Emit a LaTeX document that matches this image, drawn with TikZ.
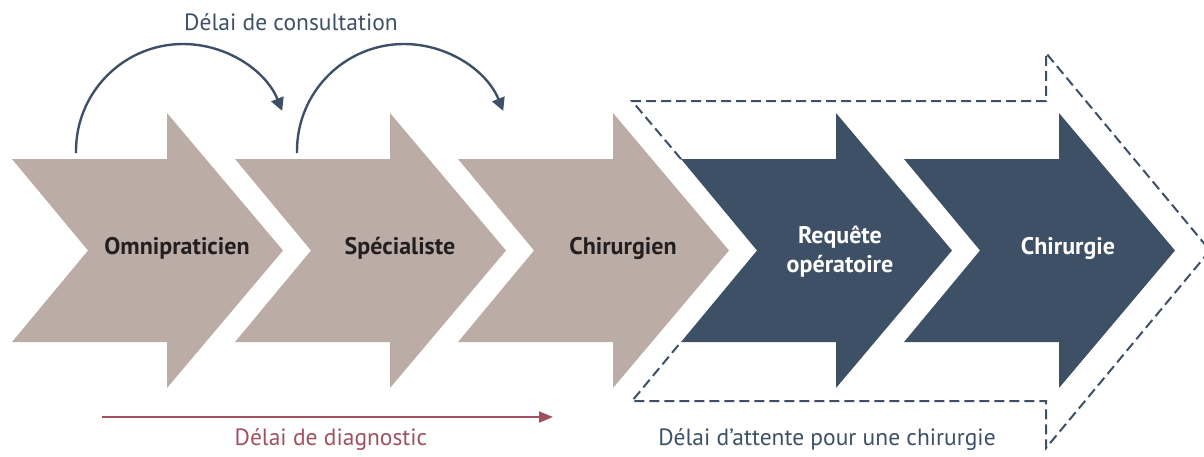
\documentclass[tikz,border=0pt]{standalone}
\usepackage{fontspec}
\setmainfont{PT Sans}
\usetikzlibrary{arrows.meta}
\definecolor{beige}{HTML}{BBADA6}
\definecolor{navy}{HTML}{3E5066}
\definecolor{mauve}{HTML}{A0505F}
\definecolor{ink}{HTML}{231F20}
\newcommand\chevshape[2]{%
  \fill[#2] (#1,159) -- (#1+155,159) -- (#1+155,113) -- (#1+271,250.5) -- (#1+155,388) -- (#1+155,342) -- (#1,342) -- (#1+76,250.5) -- cycle;}
\tikzset{
  steplabel/.style={font=\fontsize{24}{29}\selectfont\bfseries, align=center, inner sep=0pt},
  caption/.style={font=\fontsize{23.5}{28}\selectfont, inner sep=0pt},
  curvearrow/.style={draw=navy, line width=2.4pt, -{Triangle[length=13pt,width=13pt]}},
  diagarrow/.style={draw=mauve, line width=2pt, -{Triangle[length=14pt,width=11pt]}},
  waitbox/.style={draw=navy, line width=2pt, dash pattern=on 10pt off 5pt},
}
\begin{document}
\begin{tikzpicture}[x=1pt,y=-1pt]
\useasboundingbox (0,0) rectangle (1204,456);
% dashed outline (big arrow)
\draw[waitbox] (681,159) -- (632,101) -- (1046,101) -- (1046,53) -- (1210,250.5) -- (1046,448) -- (1046,401) -- (632,401) -- (681,342);
% chevrons
\chevshape{12}{beige}
\chevshape{235}{beige}
\chevshape{458}{beige}
\chevshape{681}{navy}
\chevshape{904}{navy}
% labels
\node[steplabel, text=ink] (omni) at (177,248) {Omnipraticien};
\node[steplabel, text=ink] (spec) at (400,248) {Spécialiste};
\node[steplabel, text=ink] (chir) at (623,248) {Chirurgien};
\node[steplabel, text=white] (req) at (840,252) {Requête\\opératoire};
\node[steplabel, text=white] (surg) at (1068,248) {Chirurgie};
% consultation arcs
\coordinate (c1) at (76,153);
\coordinate (c2) at (297,153);
\draw[curvearrow] (c1) -- (76,151) arc[start angle=180, end angle=338, radius=107];
\draw[curvearrow] (c2) -- (297,151) arc[start angle=180, end angle=338, radius=107];
\node[caption, text=navy] (consult) at (291,22) {Délai de consultation};
% diagnostic arrow
\coordinate (d1) at (102,417);
\coordinate (d2) at (553,417);
\draw[diagarrow] (d1) -- (d2);
\node[caption, text=mauve] (diag) at (331,440) {Délai de diagnostic};
\node[caption, text=navy] (wait) at (827,440) {Délai d’attente pour une chirurgie};
\end{tikzpicture}
\end{document}
